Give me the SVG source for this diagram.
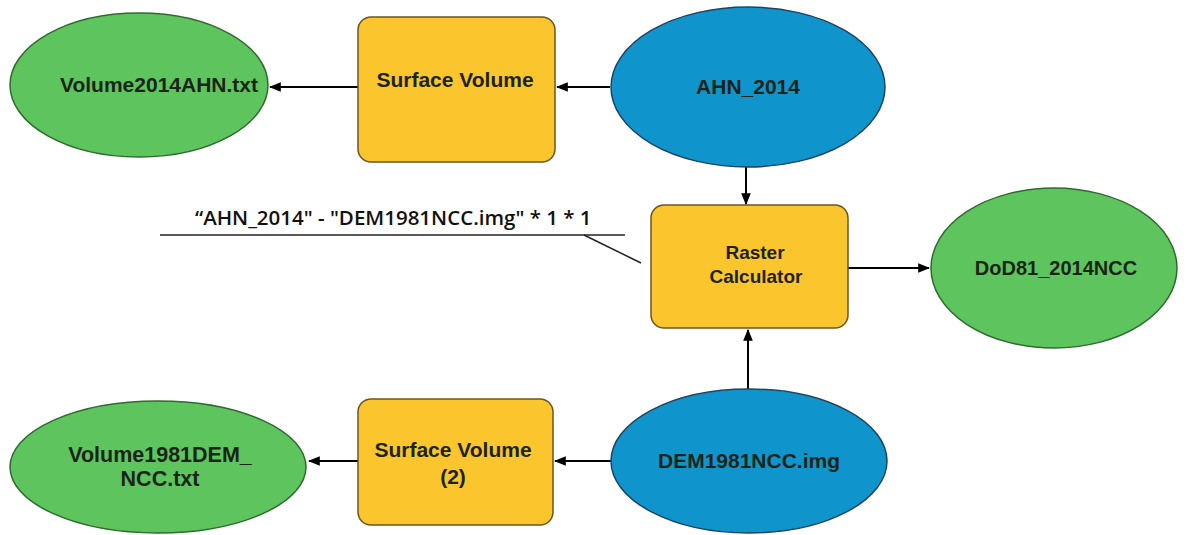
<svg xmlns="http://www.w3.org/2000/svg" width="1190" height="535" viewBox="0 0 1190 535">
<defs>
<style>
.data{fill:#5ec45e;stroke:#2f6b2f;stroke-width:1.5}
.input{fill:#0f94cc;stroke:#1d4560;stroke-width:1.5}
.tool{fill:#fbc52e;stroke:#6b5520;stroke-width:1.5}
.lbl{font-family:"Liberation Sans",Arial,sans-serif;font-weight:bold;font-size:21px;fill:#1c2418;text-anchor:middle}
.conn{stroke:#000;stroke-width:2;fill:none}
.note{font-family:"Open Sans","Liberation Sans",sans-serif;font-weight:600;font-size:20.5px;fill:#111}
.lead{stroke:#222;stroke-width:1.5;fill:none}
</style>
<marker id="arr" viewBox="0 0 10 10" refX="9" refY="5" markerWidth="6" markerHeight="6" orient="auto" markerUnits="strokeWidth">
<path d="M0,1 L10,5 L0,9 z" fill="#000"/>
</marker>
</defs>
<rect width="1190" height="535" fill="#fff"/>
<g id="connectors">
<line class="conn" x1="610" y1="87" x2="557" y2="87" marker-end="url(#arr)"/>
<line class="conn" x1="358" y1="87" x2="270" y2="87" marker-end="url(#arr)"/>
<line class="conn" x1="746" y1="167" x2="746" y2="204" marker-end="url(#arr)"/>
<line class="conn" x1="848" y1="268" x2="929" y2="268" marker-end="url(#arr)"/>
<line class="conn" x1="748" y1="390" x2="748" y2="330" marker-end="url(#arr)"/>
<line class="conn" x1="611" y1="461" x2="555" y2="461" marker-end="url(#arr)"/>
<line class="conn" x1="358" y1="461" x2="309" y2="461" marker-end="url(#arr)"/>
</g>
<g id="expression">
<text class="note" x="195" y="225">“AHN_2014" - "DEM1981NCC.img" * 1 * 1</text>
<line class="lead" x1="160" y1="235" x2="625" y2="235"/>
<line class="lead" x1="584" y1="235" x2="641" y2="263"/>
</g>
<g id="volume2014">
<ellipse class="data" cx="139" cy="85" rx="129" ry="72"/>
<text class="lbl" x="159" y="92">Volume2014AHN.txt</text>
</g>
<g id="surfacevolume">
<rect class="tool" x="358" y="17" width="197" height="145" rx="13"/>
<text class="lbl" x="455" y="87">Surface Volume</text>
</g>
<g id="ahn2014">
<ellipse class="input" cx="748" cy="87" rx="137" ry="80"/>
<text class="lbl" x="748" y="94">AHN_2014</text>
</g>
<g id="rastercalc">
<rect class="tool" x="651" y="205" width="197" height="123" rx="13"/>
<text class="lbl" x="755" y="259" style="font-size:19px">Raster</text>
<text class="lbl" x="756" y="283" style="font-size:19px">Calculator</text>
</g>
<g id="dod">
<ellipse class="data" cx="1054" cy="268" rx="123" ry="80"/>
<text class="lbl" x="1056" y="275" style="font-size:20px">DoD81_2014NCC</text>
</g>
<g id="dem1981">
<ellipse class="input" cx="749" cy="461" rx="138" ry="72"/>
<text class="lbl" x="749" y="468">DEM1981NCC.img</text>
</g>
<g id="surfacevolume2">
<rect class="tool" x="358" y="399" width="195" height="126" rx="13"/>
<text class="lbl" x="453" y="457">Surface Volume</text>
<text class="lbl" x="453" y="484">(2)</text>
</g>
<g id="volume1981">
<ellipse class="data" cx="158" cy="467" rx="148" ry="66"/>
<text class="lbl" x="160" y="462" style="font-size:21.5px">Volume1981DEM_</text>
<text class="lbl" x="160" y="486" style="font-size:21.5px">NCC.txt</text>
</g>
</svg>
